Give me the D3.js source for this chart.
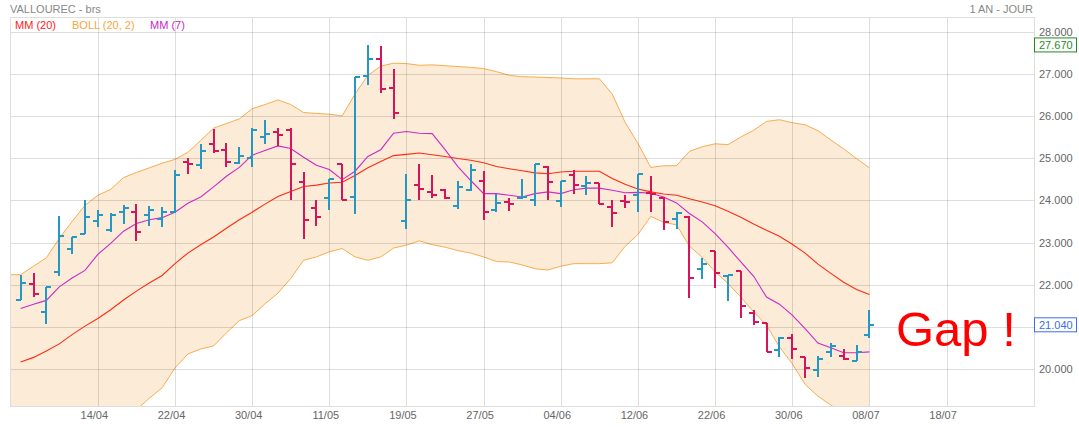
<!DOCTYPE html>
<html>
<head>
<meta charset="utf-8">
<script src="https://cdn.jsdelivr.net/npm/d3@7"></script>
<style>
  body { margin: 0; background: #fff; }
  svg { font-family: "Liberation Sans", Arial, sans-serif; display: block; }
</style>
</head>
<body>
<svg id="chart"></svg>
<script>
// tick labels on the x axis (one every 6 sessions)
const tickIdx = [6, 12, 18, 24, 30, 36, 42, 48, 54, 60, 66, 72]
const tickLabels = ["14/04", "22/04", "30/04", "11/05", "19/05", "27/05", "04/06", "12/06", "22/06", "30/06", "08/07", "18/07"]
const priceTicks = [20, 21, 22, 23, 24, 25, 26, 27, 28]

// OHLC, one value per session
const opens = [21.63, 22.01, 21.36, 22.30, 22.85, 23.20, 23.51, 23.29, 23.72, 23.72, 23.65, 23.55, 23.72, 24.90, 24.84, 25.33, 25.20, 24.89, 25.00, 25.51, 25.62, 25.67, 24.43, 23.83, 24.05, 24.85, 24.08, 26.94, 27.34, 26.66, 23.51, 24.36, 24.19, 24.25, 23.86, 24.24, 24.47, 23.76, 23.96, 24.06, 24.00, 24.79, 23.98, 24.61, 24.35, 24.41, 23.84, 23.99, 24.12, 24.17, 24.05, 23.57, 23.60, 22.38, 22.80, 22.20, 22.32, 21.32, 21.10, 20.45, 20.73, 20.28, 19.98, 20.41, 20.31, 20.20, 20.82]
const highs = [22.22, 22.29, 21.95, 23.62, 23.13, 24.00, 23.78, 23.71, 23.88, 23.91, 23.86, 23.84, 24.73, 25.01, 25.34, 25.68, 25.37, 25.26, 25.72, 25.91, 25.72, 25.72, 24.67, 24.02, 24.51, 24.87, 26.92, 27.67, 27.65, 27.12, 24.63, 24.85, 24.61, 24.28, 24.45, 24.85, 24.69, 24.16, 24.06, 24.50, 24.87, 24.82, 24.47, 24.73, 24.57, 24.42, 24.00, 24.12, 24.63, 24.57, 24.08, 23.72, 23.63, 22.64, 22.80, 22.22, 22.32, 21.41, 21.10, 20.76, 20.84, 20.28, 20.31, 20.61, 20.47, 20.58, 21.41]
const lows = [21.63, 21.70, 21.07, 22.21, 22.74, 23.20, 23.37, 23.25, 23.45, 23.04, 23.39, 23.37, 23.70, 24.63, 24.75, 25.11, 24.79, 24.87, 24.79, 25.34, 25.28, 24.02, 23.08, 23.40, 23.78, 24.00, 23.68, 26.74, 26.55, 25.93, 23.31, 24.02, 24.06, 24.04, 23.79, 24.22, 23.53, 23.72, 23.75, 24.04, 23.87, 24.02, 23.84, 24.16, 24.12, 23.92, 23.38, 23.82, 23.72, 23.72, 23.29, 23.31, 21.69, 22.13, 21.92, 21.62, 21.22, 21.04, 20.41, 20.29, 20.23, 19.80, 19.82, 20.28, 20.21, 20.19, 20.73]
const closes = [22.04, 21.78, 21.95, 23.15, 23.13, 23.60, 23.66, 23.66, 23.83, 23.24, 23.76, 23.72, 24.61, 24.86, 25.18, 25.18, 24.91, 25.04, 25.67, 25.56, 25.54, 24.87, 23.54, 23.60, 24.51, 24.02, 26.92, 27.34, 26.63, 26.08, 24.00, 24.26, 24.13, 24.06, 24.31, 24.71, 23.72, 23.94, 23.91, 24.09, 24.85, 24.43, 24.47, 24.36, 24.40, 23.92, 23.70, 23.96, 24.63, 24.15, 23.49, 23.71, 22.16, 22.50, 22.28, 22.22, 21.50, 21.11, 20.41, 20.73, 20.47, 20.04, 20.23, 20.54, 20.25, 20.40, 21.04]

// indicators
const mm20 = [20.17, 20.28, 20.43, 20.60, 20.82, 21.02, 21.20, 21.41, 21.64, 21.85, 22.04, 22.22, 22.50, 22.75, 22.95, 23.13, 23.34, 23.54, 23.72, 23.91, 24.09, 24.21, 24.33, 24.36, 24.41, 24.43, 24.59, 24.77, 24.92, 25.06, 25.09, 25.12, 25.08, 25.04, 24.99, 24.95, 24.89, 24.80, 24.75, 24.70, 24.65, 24.63, 24.67, 24.69, 24.69, 24.69, 24.52, 24.38, 24.27, 24.20, 24.15, 24.12, 24.04, 23.96, 23.87, 23.74, 23.60, 23.44, 23.29, 23.15, 22.96, 22.75, 22.49, 22.27, 22.06, 21.89, 21.77]
const mm7 = [21.44, 21.54, 21.63, 21.95, 22.16, 22.34, 22.72, 22.98, 23.27, 23.45, 23.54, 23.59, 23.72, 23.93, 24.08, 24.32, 24.57, 24.78, 25.07, 25.18, 25.29, 25.23, 25.02, 24.83, 24.73, 24.49, 24.69, 25.04, 25.20, 25.59, 25.63, 25.59, 25.58, 25.20, 24.80, 24.47, 24.16, 24.16, 24.12, 24.08, 24.16, 24.20, 24.16, 24.25, 24.29, 24.29, 24.24, 24.18, 24.19, 24.17, 24.08, 23.94, 23.69, 23.49, 23.21, 22.89, 22.54, 22.20, 21.71, 21.54, 21.28, 20.96, 20.62, 20.51, 20.39, 20.39, 20.41]
const bollUp = [22.24, 22.44, 22.64, 23.10, 23.50, 23.88, 24.12, 24.26, 24.54, 24.66, 24.77, 24.88, 24.97, 25.14, 25.42, 25.71, 25.82, 25.93, 26.17, 26.27, 26.38, 26.27, 26.08, 26.06, 26.04, 26.00, 26.52, 26.96, 27.18, 27.25, 27.24, 27.20, 27.21, 27.19, 27.17, 27.15, 27.12, 27.05, 26.96, 26.93, 26.92, 26.91, 26.90, 26.88, 26.88, 26.88, 26.52, 25.85, 25.35, 24.78, 24.82, 24.82, 25.16, 25.27, 25.34, 25.32, 25.50, 25.66, 25.87, 25.91, 25.84, 25.79, 25.65, 25.43, 25.22, 24.99, 24.77]
const bollLo = [18.10, 18.12, 18.22, 18.10, 18.14, 18.16, 18.28, 18.56, 18.74, 19.04, 19.31, 19.56, 20.03, 20.36, 20.48, 20.55, 20.86, 21.15, 21.27, 21.55, 21.80, 22.15, 22.58, 22.66, 22.78, 22.86, 22.66, 22.58, 22.66, 22.87, 22.94, 23.04, 22.95, 22.89, 22.81, 22.75, 22.66, 22.55, 22.54, 22.47, 22.38, 22.35, 22.44, 22.50, 22.50, 22.50, 22.52, 22.91, 23.19, 23.62, 23.48, 23.42, 22.92, 22.65, 22.31, 22.03, 21.71, 21.36, 21.04, 20.53, 20.13, 19.64, 19.36, 19.15, 18.95, 18.85, 18.80]

const maxLabel = 27.67
const lastLabel = 21.04

const width = 1079, height = 427
const pLeft = 10, pRight = 1034, pTop = 17, pBottom = 406

const x = d3.scaleLinear([-0.83, 78.8], [pLeft, pRight])
const y = d3.scaleLinear([20, 28], [369.2, 31.5])

const svg = d3.select("#chart")
    .attr("width", width)
    .attr("height", height)
    .attr("viewBox", [0, 0, width, height])

svg.append("defs").append("clipPath").attr("id", "plot")
  .append("rect")
    .attr("x", pLeft).attr("y", pTop)
    .attr("width", pRight - pLeft).attr("height", pBottom - pTop)

const I = d3.range(closes.length)
const plot = svg.append("g").attr("clip-path", "url(#plot)")

// bollinger band (first value carried to the left edge)
const bandIdx = [x.domain()[0], ...I]
const bandAt = (arr, i) => arr[Math.max(0, Math.round(i))]
plot.append("path")
    .attr("fill", "#fcebd6")
    .attr("d", d3.area()
      .x(i => x(i))
      .y0(i => y(bandAt(bollLo, i)))
      .y1(i => y(bandAt(bollUp, i)))(bandIdx))
plot.append("path")
    .attr("fill", "none")
    .attr("stroke", "#f7ad4f")
    .attr("stroke-width", 1)
    .attr("d", d3.line().x(i => x(i)).y(i => y(bandAt(bollUp, i)))(bandIdx))
plot.append("path")
    .attr("fill", "none")
    .attr("stroke", "#f7ad4f")
    .attr("stroke-width", 1)
    .attr("d", d3.line().x(i => x(i)).y(i => y(bandAt(bollLo, i)))(bandIdx))
plot.append("line")
    .attr("x1", pLeft + 0.5).attr("x2", pLeft + 0.5)
    .attr("y1", y(bollUp[0])).attr("y2", pBottom)
    .attr("stroke", "#f7c98a")

// grid
const grid = svg.append("g")
    .attr("stroke", "#000")
    .attr("stroke-opacity", 0.13)
    .attr("shape-rendering", "crispEdges")
grid.selectAll(".h").data(priceTicks).join("line")
    .attr("x1", pLeft).attr("x2", pRight)
    .attr("y1", d => Math.round(y(d)) + 0.5).attr("y2", d => Math.round(y(d)) + 0.5)
grid.selectAll(".v").data(tickIdx).join("line")
    .attr("x1", d => Math.round(x(d)) + 0.5).attr("x2", d => Math.round(x(d)) + 0.5)
    .attr("y1", pTop).attr("y2", pBottom)
svg.append("rect")
    .attr("x", pLeft + 0.5).attr("y", pTop + 0.5)
    .attr("width", pRight - pLeft).attr("height", pBottom - pTop)
    .attr("fill", "none").attr("stroke", "#ddd")
    .attr("shape-rendering", "crispEdges")

// moving averages
const lines = svg.append("g").attr("clip-path", "url(#plot)").attr("fill", "none")
lines.append("path")
    .attr("stroke", "#ff2a12")
    .attr("stroke-width", 1.1)
    .attr("d", d3.line().x(i => x(i)).y(i => y(mm20[i]))(I))
lines.append("path")
    .attr("stroke", "#c92bc9")
    .attr("stroke-width", 1.1)
    .attr("d", d3.line().x(i => x(i)).y(i => y(mm7[i]))(I))

// OHLC bars
const bars = svg.append("g")
    .attr("clip-path", "url(#plot)")
    .attr("stroke-width", 2)
    .attr("shape-rendering", "crispEdges")
  .selectAll("g")
  .data(I)
  .join("g")
    .attr("stroke", i => closes[i] >= opens[i] ? "#2597c4" : "#d6145c")
    .attr("transform", i => `translate(${Math.round(x(i))},0)`)
bars.append("line")
    .attr("y1", i => y(highs[i])).attr("y2", i => y(lows[i]))
bars.append("line")
    .attr("x1", -5).attr("x2", 0)
    .attr("y1", i => y(opens[i])).attr("y2", i => y(opens[i]))
bars.append("line")
    .attr("x1", 0).attr("x2", 5)
    .attr("y1", i => y(closes[i])).attr("y2", i => y(closes[i]))

// axes
const xAxis = d3.axisBottom(x)
    .tickValues(tickIdx)
    .tickFormat((d, k) => tickLabels[k])
    .tickSize(0).tickPadding(5)
svg.append("g")
    .attr("transform", `translate(0,${pBottom})`)
    .call(xAxis)
    .call(g => g.select(".domain").remove())
    .call(g => g.selectAll("text").attr("dx", -4).attr("fill", "#666").attr("font-size", 11).attr("font-family", null))

const yAxis = d3.axisRight(y)
    .tickValues(priceTicks)
    .tickFormat(d3.format(".3f"))
    .tickSize(0).tickPadding(5)
svg.append("g")
    .attr("transform", `translate(${pRight},0)`)
    .call(yAxis)
    .call(g => g.select(".domain").remove())
    .call(g => g.selectAll("text").attr("fill", "#666").attr("font-size", 11).attr("font-family", null))

// value tags on the price axis
function tag(v, color) {
  const g = svg.append("g").attr("transform", `translate(${pRight},${y(v)})`)
  g.append("rect")
      .attr("x", 0.5).attr("y", -7.5)
      .attr("width", 42).attr("height", 14)
      .attr("fill", "#fff").attr("stroke", color)
  g.append("text")
      .attr("x", 5).attr("dy", "0.35em")
      .attr("fill", color).attr("font-size", 11)
      .text(d3.format(".3f")(v))
}
tag(maxLabel, "#1f8a1f")
tag(lastLabel, "#3a6ee8")

// titles and legend
svg.append("text").attr("x", 10).attr("y", 13)
    .attr("fill", "#888").attr("font-size", 11).text("VALLOUREC - brs")
svg.append("text").attr("x", pRight - 1).attr("y", 13).attr("text-anchor", "end")
    .attr("fill", "#888").attr("font-size", 11).text("1 AN - JOUR")
const legend = [["MM (20)", "#ff1a1a", 15], ["BOLL (20, 2)", "#f7a640", 72], ["MM (7)", "#c91fc9", 150]]
svg.append("g").selectAll("text").data(legend).join("text")
    .attr("x", d => d[2]).attr("y", 29)
    .attr("fill", d => d[1]).attr("font-size", 11)
    .text(d => d[0])

svg.append("text")
    .attr("x", 896).attr("y", 346)
    .attr("fill", "#ff0000").attr("font-size", 49)
    .text("Gap !")
</script>
</body>
</html>
